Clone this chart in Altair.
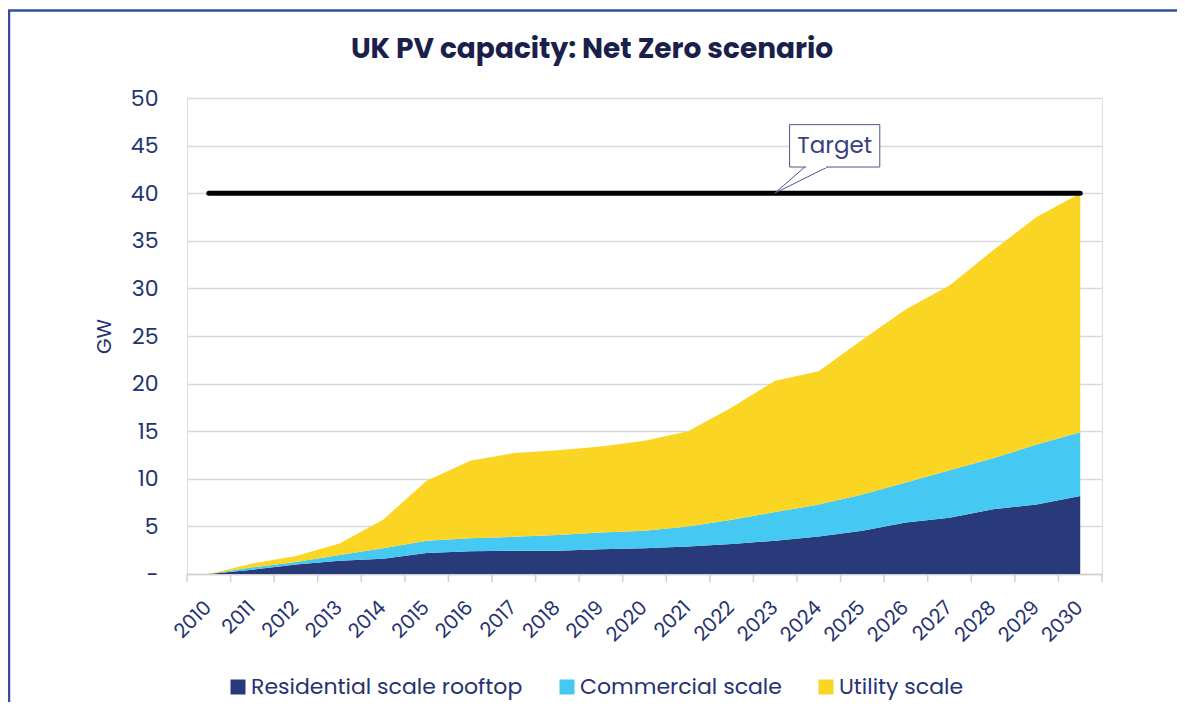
import altair as alt
import pandas as pd

# ---- data ----
years = list(range(2010, 2031))
series_names = ["Residential scale rooftop", "Commercial scale", "Utility scale"]
residential = [0, 0.45, 1.0, 1.4, 1.6, 2.2, 2.4, 2.45, 2.45, 2.6, 2.7, 2.9, 3.15, 3.5, 3.95, 4.55, 5.4, 5.9, 6.8, 7.3, 8.2]
commercial = [0, 0.25, 0.26, 0.6, 1.1, 1.3, 1.35, 1.45, 1.65, 1.75, 1.85, 2.1, 2.55, 3.0, 3.35, 3.8, 4.2, 5.0, 5.35, 6.3, 6.7]
utility = [0, 0.4, 0.64, 1.2, 3.0, 6.3, 8.15, 8.8, 8.9, 9.05, 9.45, 10.0, 11.8, 13.8, 14.0, 16.25, 18.2, 19.4, 21.85, 23.9, 25.1]
series_colors = ["#283a7a", "#45c8f2", "#fbd523"]
target_value = 40
target_label = "Target"
title_text = "UK PV capacity: Net Zero scenario"
y_ticks = list(range(0, 51, 5))

FONT = "Poppins, Inter, sans-serif"
NAVY_TXT = "#263271"

rows = []
for name, vals, idx in zip(series_names, [residential, commercial, utility], range(3)):
    for yr, v in zip(years, vals):
        rows.append({"year": yr, "series": name, "value": v, "order": idx})
df = pd.DataFrame(rows)

W, H = 915, 476
xscale = alt.Scale(domain=[years[0] - 0.5, years[-1] + 0.5], nice=False, zero=False)
yscale = alt.Scale(domain=[0, 50], nice=False)

areas = alt.Chart(df).mark_area(opacity=1).encode(
    x=alt.X("year:Q", scale=xscale,
            axis=alt.Axis(values=years, format="d", labelAngle=-45, ticks=False, grid=False,
                          domain=True, domainColor="#d0d0d0", domainWidth=1.5,
                          labelFontSize=20, labelColor=NAVY_TXT, labelFont=FONT,
                          labelOverlap=False, labelBound=False, labelFlush=False,
                          labelPadding=23, labelOffset=-8, title=None)),
    y=alt.Y("value:Q", stack="zero", scale=yscale,
            axis=alt.Axis(values=y_ticks, grid=True, gridColor="#d9d9d9", gridWidth=1.5,
                          domain=False, ticks=False, labelPadding=29,
                          labelFontSize=22, labelColor=NAVY_TXT, labelFont=FONT,
                          labelExpr="datum.value == 0 ? '-\u00a0\u00a0\u00a0' : datum.label",
                          title="GW", titleFont=FONT, titleFontSize=20, titleFontWeight="normal",
                          titleColor=NAVY_TXT, titleX=-83, titleY=238, titleAlign="center",
                          titleBaseline="middle")),
    color=alt.Color("series:N", scale=alt.Scale(domain=series_names, range=series_colors),
                    legend=alt.Legend(orient="none", legendX=40, legendY=578, direction="horizontal",
                                      title=None, symbolType="square", symbolSize=225,
                                      symbolStrokeWidth=0, labelFontSize=22, labelFont=FONT,
                                      labelColor=NAVY_TXT, columnPadding=33, labelOffset=2,
                                      labelLimit=400)),
    order=alt.Order("order:Q", sort="ascending"),
)

# x-axis boundary ticks
bounds = pd.DataFrame({"b": [y - 0.5 for y in years] + [years[-1] + 0.5]})
ticks = alt.Chart(bounds).mark_rule(color="#d0d0d0", strokeWidth=1.5).encode(
    x=alt.X("b:Q", scale=xscale), y=alt.value(H), y2=alt.value(H + 8)
)

# target line
tgt = pd.DataFrame({"x": [years[0]], "x2": [years[-1]], "y": [target_value]})
target = alt.Chart(tgt).mark_rule(color="black", strokeWidth=5, strokeCap="round").encode(
    x=alt.X("x:Q", scale=xscale), x2="x2:Q", y=alt.Y("y:Q", scale=yscale)
)

# callout
box_df = pd.DataFrame({"x": [2023.33], "x2": [2025.4], "y": [47.2], "y2": [42.75]})
box = alt.Chart(box_df).mark_rect(fill="white", stroke="#4a5590", strokeWidth=1).encode(
    x=alt.X("x:Q", scale=xscale), x2="x2:Q", y=alt.Y("y:Q", scale=yscale), y2="y2:Q"
)
ptr_df = pd.DataFrame({"x": [2023.68, 2022.99, 2024.2], "y": [42.75, 40.0, 42.75], "i": [0, 1, 2]})
pointer = alt.Chart(ptr_df).mark_line(color="#4a5590", strokeWidth=1).encode(
    x=alt.X("x:Q", scale=xscale), y=alt.Y("y:Q", scale=yscale), order="i:Q"
)
gap_df = pd.DataFrame({"x": [2023.71], "x2": [2024.17], "y": [42.75]})
gap = alt.Chart(gap_df).mark_rule(color="white", strokeWidth=2).encode(
    x=alt.X("x:Q", scale=xscale), x2="x2:Q", y=alt.Y("y:Q", scale=yscale)
)
lbl_df = pd.DataFrame({"x": [2024.365], "y": [44.97], "t": [target_label]})
label = alt.Chart(lbl_df).mark_text(font=FONT, fontSize=23, color="#3a3f80",
                                    baseline="middle", align="center").encode(
    x=alt.X("x:Q", scale=xscale), y=alt.Y("y:Q", scale=yscale), text="t:N"
)

# title
title_df = pd.DataFrame({"t": [title_text]})
title = alt.Chart(title_df).mark_text(font=FONT, fontSize=28, fontWeight="bold", color="#1b1f4c",
                                      align="center", baseline="middle").encode(
    x=alt.value(405), y=alt.value(-48), text="t:N"
)

# outer frame
frame = alt.Chart(pd.DataFrame({"a": [0]})).mark_rect(fill=None, stroke="#34509a", strokeWidth=2.5).encode(
    x=alt.value(-178), x2=alt.value(1500), y=alt.value(-87.5), y2=alt.value(1500)
)

chart = alt.layer(frame, areas, ticks, target, box, pointer, gap, label, title).properties(
    width=W, height=H,
    autosize=alt.AutoSizeParams(type="none"),
    padding={"left": 179, "top": 90, "right": 75, "bottom": 128},
).configure_view(stroke=None).configure(background="white")

chart.save("out.html", embed_options={"renderer": "svg", "actions": False})
